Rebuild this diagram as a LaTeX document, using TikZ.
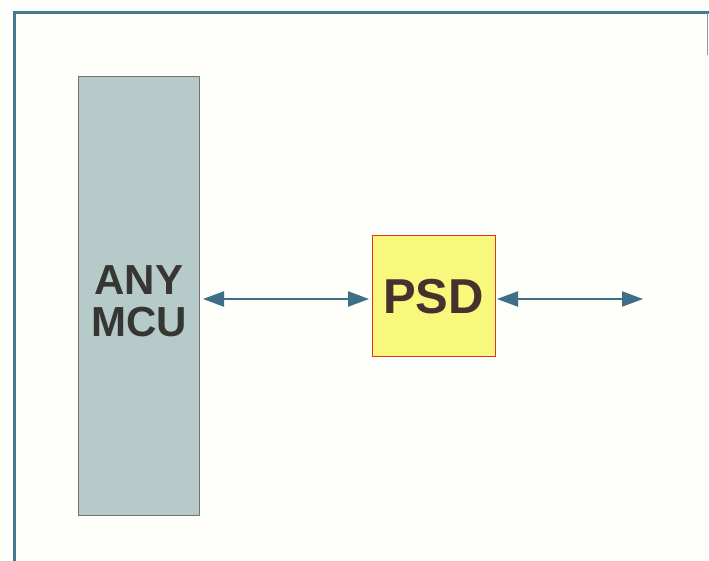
\documentclass[tikz,border=0pt]{standalone}
\usepackage{fontspec}
\setmainfont{Liberation Sans}
\usetikzlibrary{arrows.meta}
\definecolor{paper}{HTML}{FEFEFA}
\definecolor{frameblue}{HTML}{46788E}
\definecolor{mcufill}{HTML}{B6CACA}
\definecolor{psdfill}{HTML}{F8F87C}
\definecolor{linkblue}{HTML}{3E6E88}
\definecolor{inkgray}{HTML}{363632}
\definecolor{inkbrown}{HTML}{48302E}
\tikzset{
  x=1pt, y=-1pt,
  block/.style={draw=#1, line width=0.9pt, inner sep=0pt, outer sep=0pt},
  link/.style={draw=linkblue, line width=2.2pt,
    {Triangle[length=21pt,width=15pt]}-{Triangle[length=21pt,width=15pt]}},
  label font/.style={font=\bfseries\fontsize{#1}{#1}\selectfont}
}
\begin{document}
\begin{tikzpicture}
  % page
  \fill[paper] (0,0) rectangle (709,561);
  \useasboundingbox (0,0) rectangle (709,561);
  % open frame: top, left and right edges
  \draw[frameblue, line width=3pt] (14.5,561) -- (14.5,13) -- (709,13);
  \draw[frameblue!70, line width=1.2pt] (707.5,13) -- (707.5,55);
  % blocks
  \node[block=inkgray!70, fill=mcufill, minimum width=121pt, minimum height=439pt]
    (mcu) at (138.5,295.5) {};
  \node[block=red!60!brown, fill=psdfill, minimum width=123pt, minimum height=121pt]
    (psd) at (433.5,295.5) {};
  % labels
  \node[label font=42, text=inkgray, align=center, inner sep=0pt]
    (mcutext) at (139,301) {ANY\\MCU};
  \node[label font=49, text=inkbrown, inner sep=0pt, anchor=base]
    (psdtext) at (433.5,313) {PSD};
  % links
  \coordinate (bus) at (643,299);
  \draw[link] ([xshift=4pt]mcu.east |- 0,299) -- ([xshift=-3pt]psd.west |- 0,299);
  \draw[link] ([xshift=2pt]psd.east |- 0,299) -- (bus);
\end{tikzpicture}
\end{document}
